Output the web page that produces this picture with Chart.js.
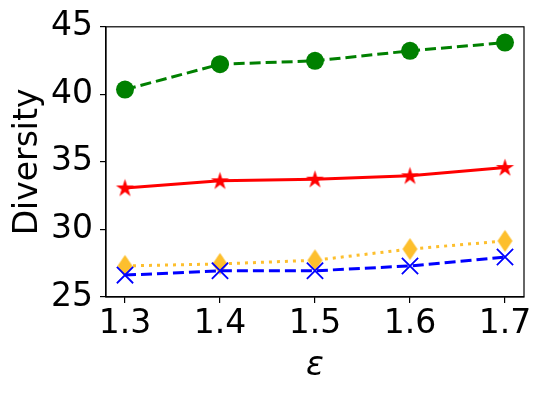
<!DOCTYPE html>
<html>
<head>
<meta charset="utf-8">
<script src="https://cdn.jsdelivr.net/npm/chart.js@4/dist/chart.umd.min.js"></script>
<style>
  html, body { margin: 0; padding: 0; background: #fff; }
  #wrap { width: 543px; height: 393px; }
</style>
</head>
<body>
<div id="wrap"><canvas id="bieudo" width="543" height="393"></canvas></div>
<script>
// du lieu doc tu hinh
const epsilon = [1.3, 1.4, 1.5, 1.6, 1.7];
const xanhLa = [40.35, 42.23, 42.48, 43.22, 43.83];
const doDo = [33.07, 33.6, 33.72, 33.97, 34.58];
const vang = [27.3, 27.45, 27.72, 28.55, 29.15];
const xanhDuong = [26.62, 26.94, 26.94, 27.3, 27.96];
const yTicks = [25, 30, 35, 40, 45];

const FONT = "'DejaVu Sans', sans-serif";

function toPts(ys) {
  return ys.map((y, i) => ({ x: epsilon[i], y: y }));
}

// ngoi sao 5 canh (matplotlib '*')
function makeStar(r, color) {
  const c = document.createElement("canvas");
  const s = Math.ceil(r * 2 + 2);
  c.width = s; c.height = s;
  const g = c.getContext("2d");
  g.fillStyle = color;
  g.beginPath();
  for (let i = 0; i < 10; i++) {
    const rr = i % 2 === 0 ? r : r * 0.38;
    const a = -Math.PI / 2 + i * Math.PI / 5;
    const px = s / 2 + rr * Math.cos(a);
    const py = s / 2 + rr * Math.sin(a) + 0.5;
    if (i === 0) g.moveTo(px, py); else g.lineTo(px, py);
  }
  g.closePath();
  g.fill();
  return c;
}

// hinh thoi hep (matplotlib 'd')
function makeDiamond(w, h, color) {
  const c = document.createElement("canvas");
  c.width = Math.ceil(w + 2); c.height = Math.ceil(h + 2);
  const g = c.getContext("2d");
  const cx = c.width / 2, cy = c.height / 2;
  g.fillStyle = color;
  g.beginPath();
  g.moveTo(cx, cy - h / 2);
  g.lineTo(cx + w / 2, cy);
  g.lineTo(cx, cy + h / 2);
  g.lineTo(cx - w / 2, cy);
  g.closePath();
  g.fill();
  return c;
}

const vangMau = "#fdbf2d";

const khung = {
  id: "khung",
  afterDraw(chart) {
    const a = chart.chartArea;
    const g = chart.ctx;
    g.save();
    g.strokeStyle = "#000";
    g.lineWidth = 1.2;
    g.strokeRect(a.left, a.top, a.right - a.left, a.bottom - a.top);
    g.restore();
  }
};

const ctx = document.getElementById("bieudo").getContext("2d");
new Chart(ctx, {
  type: "line",
  data: {
    datasets: [
      {
        label: "xanh duong",
        data: toPts(xanhDuong),
        borderColor: "#0000ff",
        borderWidth: 3,
        borderDash: [11, 5],
        pointStyle: "crossRot",
        pointRadius: 11.5,
        pointBorderWidth: 1.8,
        pointBorderColor: "#0000ff",
        fill: false
      },
      {
        label: "vang",
        data: toPts(vang),
        borderColor: vangMau,
        borderWidth: 3,
        borderDash: [3, 5],
        pointStyle: makeDiamond(15, 22, vangMau),
        fill: false
      },
      {
        label: "do",
        data: toPts(doDo),
        borderColor: "#ff0000",
        borderWidth: 3,
        pointStyle: makeStar(9.5, "#ff0000"),
        fill: false
      },
      {
        label: "xanh la",
        data: toPts(xanhLa),
        borderColor: "#008000",
        backgroundColor: "#008000",
        borderWidth: 3,
        borderDash: [11, 5],
        pointStyle: "circle",
        pointRadius: 9,
        pointBorderWidth: 0,
        pointBackgroundColor: "#008000",
        fill: false
      }
    ]
  },
  options: {
    responsive: false,
    animation: false,
    layout: { padding: { top: 25, right: 19, left: 0, bottom: 0 } },
    plugins: { legend: { display: false }, tooltip: { enabled: false } },
    scales: {
      x: {
        type: "linear",
        min: 1.28,
        max: 1.72,
        afterBuildTicks: (s) => { s.ticks = epsilon.map(v => ({ value: v })); },
        afterFit: (s) => { s.height = 96; },
        ticks: {
          color: "#000",
          font: { family: FONT, size: 33 },
          padding: 2,
          maxRotation: 0,
          callback: (v) => v.toFixed(1)
        },
        grid: { drawOnChartArea: false, drawTicks: true, tickLength: 6, color: "#000", lineWidth: 1.2 },
        border: { display: true, color: "#000", width: 1.2 },
        title: {
          display: true,
          text: "ε",
          color: "#000",
          font: { family: FONT, size: 33, style: "italic" },
          padding: { top: 0, bottom: 7 }
        }
      },
      y: {
        min: 25,
        max: 45,
        afterBuildTicks: (s) => { s.ticks = yTicks.map(v => ({ value: v })); },
        afterFit: (s) => { s.width = 106; },
        ticks: {
          color: "#000",
          font: { family: FONT, size: 33 },
          padding: 7
        },
        grid: { drawOnChartArea: false, drawTicks: true, tickLength: 6, color: "#000", lineWidth: 1.2 },
        border: { display: true, color: "#000", width: 1.2 },
        title: {
          display: true,
          text: "Diversity",
          color: "#000",
          font: { family: FONT, size: 33 },
          padding: { top: 9, bottom: 0 }
        }
      }
    }
  },
  plugins: [khung]
});
</script>
</body>
</html>
